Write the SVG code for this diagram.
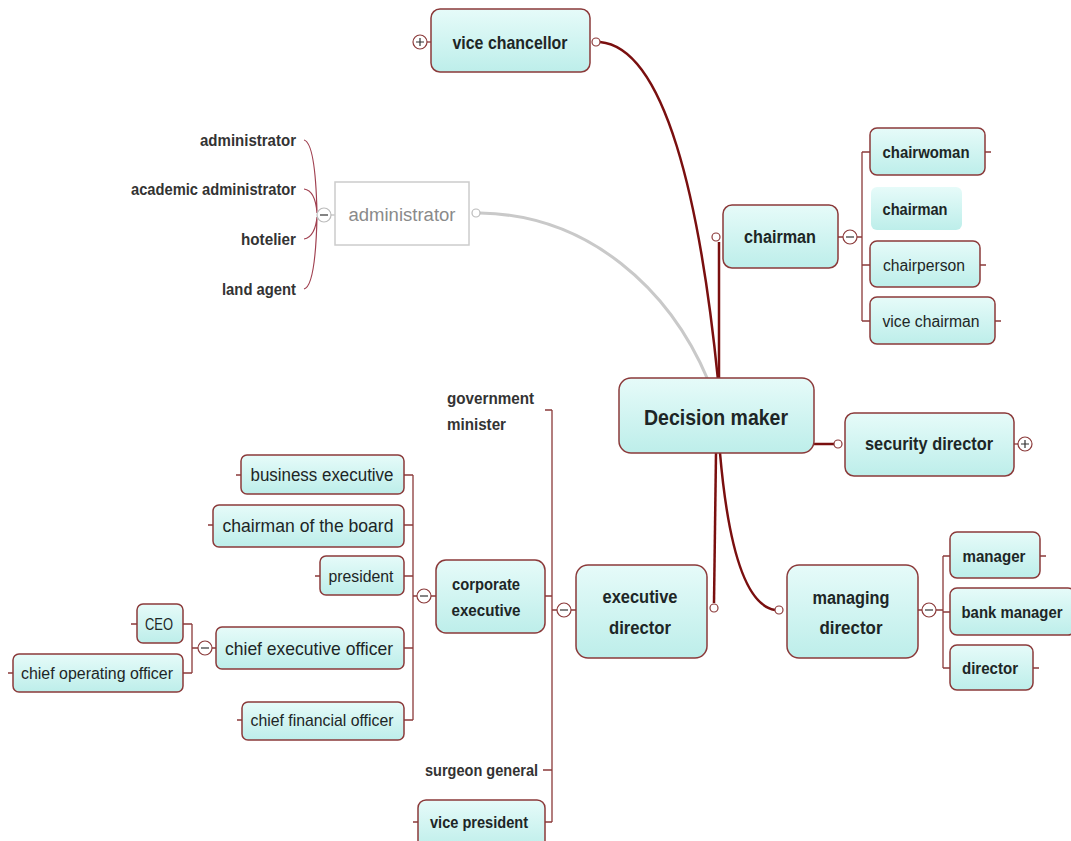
<svg xmlns="http://www.w3.org/2000/svg" width="1071" height="841" viewBox="0 0 1071 841">
<defs>
<linearGradient id="g" x1="0" y1="0" x2="0" y2="1">
<stop offset="0" stop-color="#e6fbf9"/>
<stop offset="1" stop-color="#bdeeea"/>
</linearGradient>
<style>
.n{fill:url(#g);stroke:#8b3a3a;stroke-width:1.5}
.t{font-family:"Liberation Sans",Arial,sans-serif;fill:#1d2626;text-anchor:middle;dominant-baseline:central}
.b{font-weight:bold}
.lab{font-family:"Liberation Sans",Arial,sans-serif;fill:#333;font-weight:bold;font-size:16px;dominant-baseline:central}
.main{fill:none;stroke:#7a0f0f;stroke-width:2.5}
.thin{fill:none;stroke:#8b3a3a;stroke-width:1.3}
.dot{fill:#fff;stroke:#8b3a3a;stroke-width:1.2}
.tog{fill:#fff;stroke:#8b3a3a;stroke-width:1.2}
.sym{stroke:#333;stroke-width:1.2}
</style>
</defs>
<rect width="1071" height="841" fill="#fff"/>
<g id="connectors">
<path class="main" d="M600 42 C665 48 700 200 718 380"/>
<path d="M480 213 C590 215 670 290 708 380" fill="none" stroke="#c9c9c9" stroke-width="3"/>
<path class="main" d="M719 242 L719 380"/>
<path class="main" d="M814 444 L834 444"/>
<path class="main" d="M716 453 L714 603"/>
<path class="main" d="M720 453 C728 545 745 605 775 610"/>
<path class="thin" d="M427 42 H431"/>
<path class="thin" d="M838 237 H843 M857 237 H862 M862 152 V321 M862 152 H870 M862 265 H870 M862 321 H870 M985 152 H991 M980 265 H986 M995 321 H1001"/>
<path class="thin" d="M1014 444 H1018"/>
<path class="thin" d="M918 610 H922 M936 610 H943 M943 556 V668 M943 556 H950 M943 612 H950 M943 668 H950 M1040 556 H1046 M1033 668 H1039"/>
<path class="thin" d="M571 610 H576 M552 610 H557 M552 410 V822 M545 410 H552 M545 596 H552 M543 770 H552 M545 822 H552 M413 822 H418"/>
<path class="thin" d="M431 596 H436 M413 596 H417 M413 475 V720 M404 475 H413 M404 525 H413 M404 576 H413 M404 648 H413 M404 720 H413 M236 475 H241 M208 525 H213 M315 576 H320 M237 720 H242"/>
<path class="thin" d="M212 648 H216 M192 648 H198 M192 624 V673 M183 624 H192 M183 673 H192 M131 624 H137 M8 673 H13"/>
<path d="M331 215 H335" stroke="#bbb" stroke-width="1.2"/>
<path fill="none" stroke="#a04050" stroke-width="1.2" d="M304 140 C312 142 316 170 317 213 M304 189 C312 190 316 200 317 213 M304 239 C312 238 316 228 317 217 M304 289 C312 287 316 260 317 217"/>
<circle class="dot" cx="596" cy="42" r="4"/>
<circle cx="476" cy="213" r="4" fill="#fff" stroke="#bbb" stroke-width="1.2"/>
<circle class="dot" cx="716" cy="237" r="4"/>
<circle class="dot" cx="838" cy="444" r="4"/>
<circle class="dot" cx="714" cy="608" r="4"/>
<circle class="dot" cx="779" cy="610" r="4"/>
</g>
<g id="toggles">
<circle class="tog" cx="420" cy="42" r="7"/><path class="sym" d="M416 42 H424 M420 38 V46"/>
<circle cx="324" cy="215" r="7" fill="#fff" stroke="#bbb" stroke-width="1.2"/><path class="sym" d="M320 215 H328"/>
<circle class="tog" cx="850" cy="237" r="7"/><path class="sym" d="M846 237 H854"/>
<circle class="tog" cx="1025" cy="444" r="7"/><path class="sym" d="M1021 444 H1029 M1025 440 V448"/>
<circle class="tog" cx="929" cy="610" r="7"/><path class="sym" d="M925 610 H933"/>
<circle class="tog" cx="564" cy="610" r="7"/><path class="sym" d="M560 610 H568"/>
<circle class="tog" cx="424" cy="596" r="7"/><path class="sym" d="M420 596 H428"/>
<circle class="tog" cx="205" cy="648" r="7"/><path class="sym" d="M201 648 H209"/>
</g>
<g id="n-vice-chancellor"><rect class="n" x="431" y="9" width="159" height="63" rx="9"/><text class="t b" x="510" y="42" font-size="19" textLength="115" lengthAdjust="spacingAndGlyphs">vice chancellor</text></g>
<g id="n-administrator"><rect x="335" y="182" width="134" height="63" fill="#fff" stroke="#ccc" stroke-width="1.5"/><text class="t" x="402" y="215" font-size="18" style="fill:#8a8a8a" textLength="107" lengthAdjust="spacingAndGlyphs">administrator</text></g>
<g id="labels-admin">
<text class="lab" x="296" y="140" text-anchor="end" textLength="96" lengthAdjust="spacingAndGlyphs">administrator</text>
<text class="lab" x="296" y="189" text-anchor="end" textLength="165" lengthAdjust="spacingAndGlyphs">academic administrator</text>
<text class="lab" x="296" y="239" text-anchor="end" textLength="55" lengthAdjust="spacingAndGlyphs">hotelier</text>
<text class="lab" x="296" y="289" text-anchor="end" textLength="74" lengthAdjust="spacingAndGlyphs">land agent</text>
</g>
<g id="n-chairman"><rect class="n" x="723" y="205" width="115" height="63" rx="9"/><text class="t b" x="780" y="237" font-size="18" textLength="72" lengthAdjust="spacingAndGlyphs">chairman</text></g>
<g id="n-chairwoman"><rect class="n" x="870" y="128" width="115" height="47" rx="7"/><text class="t b" x="926" y="152" font-size="16" textLength="87" lengthAdjust="spacingAndGlyphs">chairwoman</text></g>
<g id="n-chairman-sub"><rect x="871" y="187" width="91" height="43" rx="6" fill="url(#g)"/><text class="t b" x="915" y="209" font-size="16" textLength="65" lengthAdjust="spacingAndGlyphs">chairman</text></g>
<g id="n-chairperson"><rect class="n" x="870" y="241" width="110" height="46" rx="7"/><text class="t" x="924" y="265" font-size="16" textLength="82" lengthAdjust="spacingAndGlyphs">chairperson</text></g>
<g id="n-vice-chairman"><rect class="n" x="870" y="297" width="125" height="47" rx="7"/><text class="t" x="931" y="321" font-size="16" textLength="97" lengthAdjust="spacingAndGlyphs">vice chairman</text></g>
<g id="n-decision-maker"><rect class="n" x="619" y="378" width="195" height="75" rx="12"/><text class="t b" x="716" y="417" font-size="22" textLength="144" lengthAdjust="spacingAndGlyphs">Decision maker</text></g>
<g id="n-security-director"><rect class="n" x="845" y="413" width="169" height="63" rx="9"/><text class="t b" x="929" y="444" font-size="18" textLength="128" lengthAdjust="spacingAndGlyphs">security director</text></g>
<g id="n-managing-director"><rect class="n" x="787" y="565" width="131" height="93" rx="12"/><text class="t b" x="851" y="598" font-size="18" textLength="77" lengthAdjust="spacingAndGlyphs">managing</text><text class="t b" x="851" y="628" font-size="18" textLength="63" lengthAdjust="spacingAndGlyphs">director</text></g>
<g id="n-manager"><rect class="n" x="950" y="532" width="90" height="46" rx="7"/><text class="t b" x="994" y="556" font-size="16" textLength="63" lengthAdjust="spacingAndGlyphs">manager</text></g>
<g id="n-bank-manager"><rect class="n" x="950" y="588" width="125" height="47" rx="7"/><text class="t b" x="1012" y="612" font-size="16" textLength="101" lengthAdjust="spacingAndGlyphs">bank manager</text></g>
<g id="n-director"><rect class="n" x="950" y="645" width="83" height="45" rx="7"/><text class="t b" x="990" y="668" font-size="16" textLength="56" lengthAdjust="spacingAndGlyphs">director</text></g>
<g id="n-executive-director"><rect class="n" x="576" y="565" width="131" height="93" rx="12"/><text class="t b" x="640" y="597" font-size="18" textLength="75" lengthAdjust="spacingAndGlyphs">executive</text><text class="t b" x="640" y="628" font-size="18" textLength="62" lengthAdjust="spacingAndGlyphs">director</text></g>
<g id="n-corporate-executive"><rect class="n" x="436" y="560" width="109" height="73" rx="10"/><text class="t b" x="486" y="584" font-size="16" textLength="68" lengthAdjust="spacingAndGlyphs">corporate</text><text class="t b" x="486" y="610" font-size="16" textLength="69" lengthAdjust="spacingAndGlyphs">executive</text></g>
<g id="n-government-minister"><text class="lab" x="447" y="398" textLength="87" lengthAdjust="spacingAndGlyphs">government</text><text class="lab" x="447" y="424" textLength="59" lengthAdjust="spacingAndGlyphs">minister</text></g>
<g id="n-surgeon-general"><text class="lab" x="538" y="770" text-anchor="end" textLength="113" lengthAdjust="spacingAndGlyphs">surgeon general</text></g>
<g id="n-vice-president"><rect class="n" x="418" y="800" width="127" height="50" rx="8"/><text class="t b" x="479" y="822" font-size="16" textLength="98" lengthAdjust="spacingAndGlyphs">vice president</text></g>
<g id="n-business-executive"><rect class="n" x="241" y="455" width="163" height="39" rx="6"/><text class="t" x="322" y="475" font-size="18" textLength="143" lengthAdjust="spacingAndGlyphs">business executive</text></g>
<g id="n-chairman-of-the-board"><rect class="n" x="213" y="505" width="191" height="42" rx="6"/><text class="t" x="308" y="525" font-size="19" textLength="171" lengthAdjust="spacingAndGlyphs">chairman of the board</text></g>
<g id="n-president"><rect class="n" x="320" y="556" width="84" height="39" rx="6"/><text class="t" x="361" y="576" font-size="17" textLength="65" lengthAdjust="spacingAndGlyphs">president</text></g>
<g id="n-chief-executive-officer"><rect class="n" x="216" y="627" width="188" height="42" rx="6"/><text class="t" x="309" y="648" font-size="19" textLength="168" lengthAdjust="spacingAndGlyphs">chief executive officer</text></g>
<g id="n-chief-financial-officer"><rect class="n" x="242" y="702" width="162" height="38" rx="6"/><text class="t" x="322" y="720" font-size="17" textLength="143" lengthAdjust="spacingAndGlyphs">chief financial officer</text></g>
<g id="n-ceo"><rect class="n" x="137" y="604" width="46" height="39" rx="6"/><text class="t" x="159" y="624" font-size="16" textLength="28" lengthAdjust="spacingAndGlyphs">CEO</text></g>
<g id="n-chief-operating-officer"><rect class="n" x="13" y="654" width="170" height="38" rx="6"/><text class="t" x="97" y="673" font-size="16" textLength="152" lengthAdjust="spacingAndGlyphs">chief operating officer</text></g>
</svg>
